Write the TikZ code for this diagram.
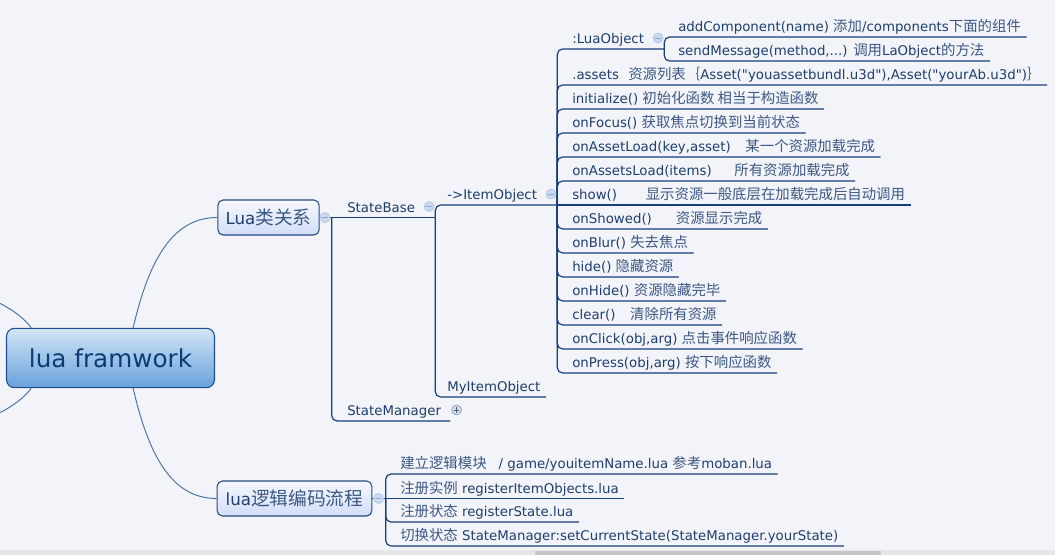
\documentclass[tikz,border=0pt]{standalone}
\usepackage{fontspec}
\setmainfont{DejaVu Sans}[Ligatures=TeXOff]
\newfontfamily\cjk{Noto Sans CJK SC}[Scale=1.08]
\usetikzlibrary{positioning}

\definecolor{xmbg}{HTML}{F3F4F9}
\definecolor{xmline}{HTML}{153F7A}
\definecolor{xmtext}{HTML}{1D3E6E}
\definecolor{xmzh}{HTML}{3C5885}
\definecolor{xmcurve}{HTML}{46709F}
\definecolor{xmfold}{HTML}{CBD9F0}
\definecolor{xmfoldrim}{HTML}{A8C0E2}
\definecolor{xmfoldsign}{HTML}{8EA8D2}
\definecolor{xmplus}{HTML}{D6DDEA}
\definecolor{xmplusrim}{HTML}{7D8DA8}
\definecolor{xmplussign}{HTML}{4B5B78}
\definecolor{xmroottop}{HTML}{D3E5F7}
\definecolor{xmrootbot}{HTML}{67A1DB}
\definecolor{xmrootrim}{HTML}{1F4E8C}
\definecolor{xmroottext}{HTML}{0E3B74}
\definecolor{xmboxtop}{HTML}{F6F8FE}
\definecolor{xmboxbot}{HTML}{D2DDF7}
\definecolor{xmboxrim}{HTML}{264B82}
\definecolor{xmstrip}{HTML}{E6E6EA}
\definecolor{xmthumb}{HTML}{C6C6C8}

\newcommand{\zh}[1]{{\cjk\color{xmzh}#1}}

\tikzset{
  item/.style={anchor=south west, inner xsep=0pt, inner ysep=2.25pt,
    text height=7.5pt, text depth=1.5pt, font=\fontsize{10}{12}\selectfont, text=xmtext},
  branch/.style={draw=xmboxrim, line width=0.8pt, rounded corners=4pt,
    top color=xmboxtop, bottom color=xmboxbot, minimum height=26.25pt,
    font=\fontsize{12.5}{15}\selectfont, text=xmtext},
  link/.style={draw=xmline, line width=0.9pt, rounded corners=4pt},
  curve/.style={draw=xmcurve, line width=0.7pt},
  fold/.style={circle, inner sep=0pt, minimum size=7.5pt, fill=xmfold, draw=xmfoldrim, line width=0.4pt,
    path picture={\draw[xmfoldsign, line width=0.6pt] ([xshift=-2pt]path picture bounding box.center) -- ([xshift=2pt]path picture bounding box.center);}},
  unfold/.style={circle, inner sep=0pt, minimum size=7.5pt, fill=xmplus, draw=xmplusrim, line width=0.4pt,
    path picture={\draw[xmplussign, line width=0.6pt] ([xshift=-2pt]path picture bounding box.center) -- ([xshift=2pt]path picture bounding box.center) ([yshift=-2pt]path picture bounding box.center) -- ([yshift=2pt]path picture bounding box.center);}},
}

\begin{document}
\begin{tikzpicture}[x=0.75pt, y=-0.75pt]
\useasboundingbox[fill=xmbg] (0,0) rectangle (1055,555);
\fill[xmstrip] (0,550) rectangle (1055,555);
\fill[xmthumb] (535,551) rectangle (881,555);

% central topic and the two main branches
\node (root) [draw=xmrootrim, line width=0.8pt, rounded corners=6pt, top color=xmroottop, bottom color=xmrootbot, minimum width=156pt, minimum height=44.5pt, font=\fontsize{18.5}{22}\selectfont, text=xmroottext] at (110.5,358) {lua framwork};
\node (luaclass) [branch, minimum width=76pt] at (268.5,217.5) {Lua{\fontsize{13}{15}\selectfont\zh{类关系}}};
\node (luaflow) [branch, minimum width=116pt] at (294.5,498.5) {lua{\fontsize{13}{15}\selectfont\zh{逻辑编码流程}}};

% Lua class tree
\node[item] (statebase) at (347,217.5) {StateBase};
\node[item] (statemgr) at (347,421) {StateManager};
\node[item] (itemobj) at (447,205) {->ItemObject};
\node[item] (myitem) at (447,397) {MyItemObject};

\node[item] (luaobj) at (572,49) {:LuaObject};
\node[item] (addcomp) at (678,37) {addComponent(name) \zh{添加}/components\zh{下面的组件}};
\node[item] (sendmsg) at (678,61) {sendMessage(method,...) \zh{调用}LaObject\zh{的方法}};
\node[item] (assets) at (572,85) {.assets\hspace{7pt}\zh{资源列表｛}Asset("youassetbundl.u3d"),Asset("yourAb.u3d")\zh{｝}};
\node[item] (init) at (572,109) {initialize() \zh{初始化函数 相当于构造函数}};
\node[item] (focus) at (572,133) {onFocus() \zh{获取焦点切换到当前状态}};
\node[item] (assetload) at (572,157) {onAssetLoad(key,asset)\hspace{11pt}\zh{某一个资源加载完成}};
\node[item] (assetsload) at (572,181) {onAssetsLoad(items)\hspace{17pt}\zh{所有资源加载完成}};
\node[item] (show) at (572,205) {show()\hspace{21.5pt}\zh{显示资源一般底层在加载完成后自动调用}};
\node[item] (showed) at (572,229) {onShowed()\hspace{18pt}\zh{资源显示完成}};
\node[item] (blur) at (572,253) {onBlur() \zh{失去焦点}};
\node[item] (hide) at (572,277) {hide() \zh{隐藏资源}};
\node[item] (onhide) at (572,301) {onHide() \zh{资源隐藏完毕}};
\node[item] (clear) at (572,325) {clear()\hspace{11pt}\zh{清除所有资源}};
\node[item] (click) at (572,349) {onClick(obj,arg) \zh{点击事件响应函数}};
\node[item] (press) at (572,373) {onPress(obj,arg) \zh{按下响应函数}};

% coding flow
\node[item] (mkmodule) at (400,474) {\zh{建立逻辑模块}\hspace{9pt}/ game/youitemName.lua \zh{参考}moban.lua};
\node[item] (regitem) at (400,498.5) {\zh{注册实例} registerItemObjects.lua};
\node[item] (regstate) at (400,522) {\zh{注册状态} registerState.lua};
\node[item] (switch) at (400,546) {\zh{切换状态} StateManager:setCurrentState(StateManager.yourState)};

\coordinate (lc-b) at ([xshift=9pt]luaclass.east);
\coordinate (sb-b) at ([xshift=15pt]statebase.south east);
\coordinate (io-b) at ([xshift=15pt]itemobj.south east);
\coordinate (lo-b) at ([xshift=15pt]luaobj.south east);
\coordinate (lf-b) at ([xshift=10pt]luaflow.east);
\coordinate (up-off) at (-3,302);
\coordinate (down-off) at (-3,414);

% curves out of the central topic
\draw[curve] ([xshift=17pt]root.north) .. controls (150,255) and (175,217.5) .. (luaclass.west);
\draw[curve] ([xshift=17pt]root.south) .. controls (150,462) and (175,498.5) .. (luaflow.west);
\draw[curve] ([xshift=19pt]root.north west) .. controls (24,318) and (12,309) .. (up-off);
\draw[curve] ([xshift=19pt]root.south west) .. controls (24,398) and (12,407) .. (down-off);

\draw[link] (luaclass.east) -- (statebase.south west) -- (sb-b);
\draw[link] (lc-b) |- (statemgr.south west) -- ([xshift=6.75pt]statemgr.south east);
\draw[link] (sb-b) |- (itemobj.south west) -- (io-b);
\draw[link] (sb-b) |- (myitem.south west) -- ([xshift=4pt]myitem.south east);

\draw[link] (io-b) |- (luaobj.south west) -- (lo-b);
\draw[link] (lo-b) |- (addcomp.south west) -- ([xshift=4pt]addcomp.south east);
\draw[link] (lo-b) |- (sendmsg.south west) -- ([xshift=4pt]sendmsg.south east);
\draw[link] (io-b) |- (assets.south west) -- ([xshift=4pt]assets.south east);
\draw[link] (io-b) |- (init.south west) -- ([xshift=4pt]init.south east);
\draw[link] (io-b) |- (focus.south west) -- ([xshift=4pt]focus.south east);
\draw[link] (io-b) |- (assetload.south west) -- ([xshift=4pt]assetload.south east);
\draw[link] (io-b) |- (assetsload.south west) -- ([xshift=4pt]assetsload.south east);
\draw[link] (io-b) -- (show.south west) -- ([xshift=4pt]show.south east);
\draw[link] (io-b) |- (showed.south west) -- ([xshift=4pt]showed.south east);
\draw[link] (io-b) |- (blur.south west) -- ([xshift=4pt]blur.south east);
\draw[link] (io-b) |- (hide.south west) -- ([xshift=4pt]hide.south east);
\draw[link] (io-b) |- (onhide.south west) -- ([xshift=4pt]onhide.south east);
\draw[link] (io-b) |- (clear.south west) -- ([xshift=4pt]clear.south east);
\draw[link] (io-b) |- (click.south west) -- ([xshift=4pt]click.south east);
\draw[link] (io-b) |- (press.south west) -- ([xshift=4pt]press.south east);

\draw[link] (lf-b) |- (mkmodule.south west) -- ([xshift=4pt]mkmodule.south east);
\draw[link] (luaflow.east) -- (regitem.south west) -- ([xshift=4pt]regitem.south east);
\draw[link] (lf-b) |- (regstate.south west) -- ([xshift=4pt]regstate.south east);
\draw[link] (lf-b) |- (switch.south west) -- ([xshift=4pt]switch.south east);

% fold markers
\node[fold, right=0pt of luaclass] (lc-f) {};
\node[fold, right=6.4pt of statebase.south east, yshift=8.25pt] (sb-f) {};
\node[fold, right=6.4pt of itemobj.south east, yshift=8.25pt] (io-f) {};
\node[fold, right=6.4pt of luaobj.south east, yshift=8.25pt] (lo-f) {};
\node[unfold, right=7.5pt of statemgr.south east, yshift=8.25pt] (sm-f) {};
\node[fold, right=0.75pt of luaflow] (lf-f) {};
\end{tikzpicture}
\end{document}
